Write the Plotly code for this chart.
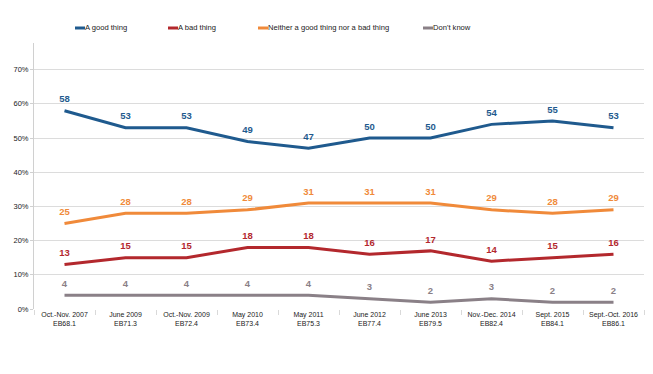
import plotly.graph_objects as go

categories = ["Oct.-Nov. 2007<br>EB68.1", "June 2009<br>EB71.3", "Oct.-Nov. 2009<br>EB72.4",
              "May 2010<br>EB73.4", "May 2011<br>EB75.3", "June 2012<br>EB77.4",
              "June 2013<br>EB79.5", "Nov.-Dec. 2014<br>EB82.4", "Sept. 2015<br>EB84.1",
              "Sept.-Oct. 2016<br>EB86.1"]
good = [58, 53, 53, 49, 47, 50, 50, 54, 55, 53]
bad = [13, 15, 15, 18, 18, 16, 17, 14, 15, 16]
neither = [25, 28, 28, 29, 31, 31, 31, 29, 28, 29]
dont_know = [4, 4, 4, 4, 4, 3, 2, 3, 2, 2]

series_names = ["A good thing", "A bad thing", "Neither a good thing nor a bad thing", "Don't know"]
series_vals = [good, bad, neither, dont_know]
colors = ["#1f5a8e", "#b3282d", "#f08a3a", "#8a8087"]

fig = go.Figure()
for name, vals, c in zip(series_names, series_vals, colors):
    fig.add_trace(go.Scatter(
        x=categories, y=vals, name=name, mode="lines+markers+text",
        line=dict(color=c, width=3),
        marker=dict(size=8, opacity=0, color=c),
        text=[str(v) for v in vals], textposition="top center",
        textfont=dict(color=c, size=9.5, family="Liberation Sans", weight="bold"),
        cliponaxis=False, showlegend=False, hoverinfo="x+y",
    ))

# legend drawn as short line + text (positions in screen px relative to plot area)
leg_x = [75, 168, 258, 423]
for x0, name, c in zip(leg_x, series_names, colors):
    fig.add_shape(type="line", xref="paper", yref="paper",
                  x0=(x0 - 34) / 610, x1=(x0 - 34 + 10) / 610,
                  y0=(309 - 28) / 266, y1=(309 - 28) / 266,
                  line=dict(color=c, width=3))
    fig.add_annotation(xref="paper", yref="paper", x=(x0 - 34 + 10) / 610, y=(309 - 28) / 266,
                       text=name, showarrow=False, xanchor="left", yanchor="middle", xshift=-2,
                       font=dict(size=7.6, color="#222", family="Liberation Sans"))

fig.update_layout(
    width=653, height=374,
    margin=dict(l=26, r=17, t=35, b=73),
    paper_bgcolor="white", plot_bgcolor="white",
    font=dict(family="Liberation Sans", color="#333"),
    xaxis=dict(type="category", tickson="boundaries", ticks="outside", ticklen=5,
               tickcolor="#d9d9d9", showgrid=False, showline=False, tickangle=0,
               automargin=False,
               tickfont=dict(size=7, color="#222"), range=[-0.5, 9.5]),
    yaxis=dict(range=[0, 77.8], tickvals=[0, 10, 20, 30, 40, 50, 60, 70],
               ticktext=["0%", "10%", "20%", "30%", "40%", "50%", "60%", "70%"],
               showgrid=True, gridcolor="#dcdcdc", gridwidth=1, automargin=False,
               showline=True, linecolor="#d0d0d0", linewidth=1,
               ticks="outside", ticklen=3, tickcolor="#d0d0d0",
               tickfont=dict(size=7.5, color="#222"), zeroline=False),
)

fig.write_html("out.html")
